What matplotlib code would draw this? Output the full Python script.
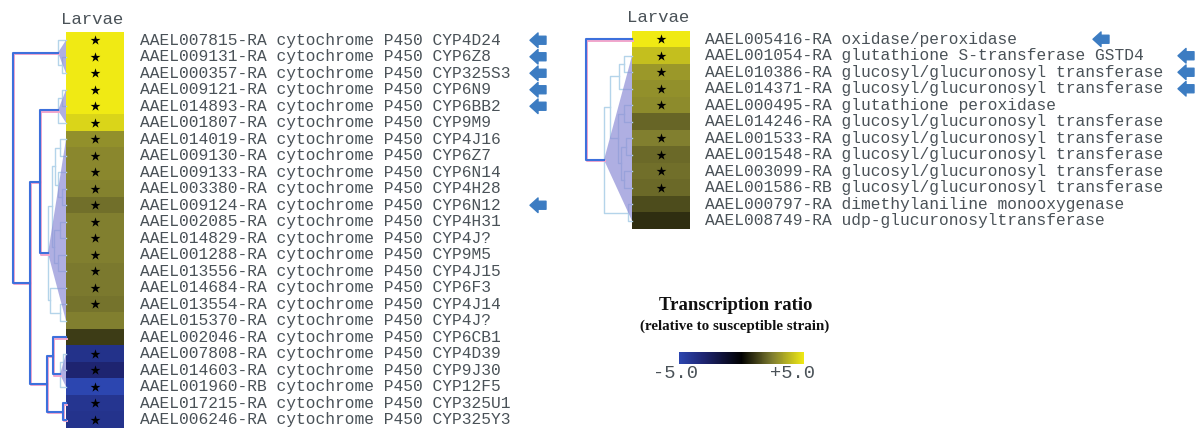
import numpy as np
import matplotlib
matplotlib.use('Agg')
import matplotlib.pyplot as plt
import matplotlib.transforms as mtransforms
from matplotlib.colors import LinearSegmentedColormap, Normalize
from matplotlib.cm import ScalarMappable
from matplotlib.patches import Polygon


# LEFT PANEL - cytochrome P450 genes
left_ids = ['AAEL007815-RA', 'AAEL009131-RA', 'AAEL000357-RA', 'AAEL009121-RA',
            'AAEL014893-RA', 'AAEL001807-RA', 'AAEL014019-RA', 'AAEL009130-RA',
            'AAEL009133-RA', 'AAEL003380-RA', 'AAEL009124-RA', 'AAEL002085-RA',
            'AAEL014829-RA', 'AAEL001288-RA', 'AAEL013556-RA', 'AAEL014684-RA',
            'AAEL013554-RA', 'AAEL015370-RA', 'AAEL002046-RA', 'AAEL007808-RA',
            'AAEL014603-RA', 'AAEL001960-RB', 'AAEL017215-RA', 'AAEL006246-RA']
left_names = ['CYP4D24', 'CYP6Z8', 'CYP325S3', 'CYP6N9', 'CYP6BB2', 'CYP9M9',
              'CYP4J16', 'CYP6Z7', 'CYP6N14', 'CYP4H28', 'CYP6N12', 'CYP4H31',
              'CYP4J?', 'CYP9M5', 'CYP4J15', 'CYP6F3', 'CYP4J14', 'CYP4J?',
              'CYP6CB1', 'CYP4D39', 'CYP9J30', 'CYP12F5', 'CYP325U1', 'CYP325Y3']
left_ratio = [5.0, 5.0, 5.0, 5.0, 5.0, 4.5, 2.9, 2.7, 2.7, 2.6, 2.2, 2.5,
              2.5, 2.5, 2.4, 2.4, 2.3, 2.5, 1.2, -3.8, -3.0, -5.0, -4.0, -3.9]
left_star = [1, 1, 1, 1, 1, 1, 1, 1, 1, 1, 1, 1,
             1, 1, 1, 1, 1, 0, 0, 1, 1, 1, 1, 1]
left_arrow = [0, 1, 2, 3, 4, 10]

# RIGHT PANEL - other detox genes
right_ids = ['AAEL005416-RA', 'AAEL001054-RA', 'AAEL010386-RA', 'AAEL014371-RA',
             'AAEL000495-RA', 'AAEL014246-RA', 'AAEL001533-RA', 'AAEL001548-RA',
             'AAEL003099-RA', 'AAEL001586-RB', 'AAEL000797-RA', 'AAEL008749-RA']
right_names = ['oxidase/peroxidase', 'glutathione S-transferase GSTD4',
               'glucosyl/glucuronosyl transferase', 'glucosyl/glucuronosyl transferase',
               'glutathione peroxidase', 'glucosyl/glucuronosyl transferase',
               'glucosyl/glucuronosyl transferase', 'glucosyl/glucuronosyl transferase',
               'glucosyl/glucuronosyl transferase', 'glucosyl/glucuronosyl transferase',
               'dimethylaniline monooxygenase', 'udp-glucuronosyltransferase']
right_ratio = [5.0, 4.0, 3.1, 2.9, 2.8, 2.0, 2.5, 2.1, 2.2, 2.1, 1.5, 0.9]
right_star = [1, 1, 1, 1, 1, 0, 1, 1, 1, 1, 0, 0]
right_arrow = [0, 1, 2, 3]

# dendrograms: (link position, child, child[, 'c' = collapsed]), ints are rows
left_tree = (13,
             (58, 0, (62, 1, 2), 'c'),
             (30,
              (40,
               (58, (62, 3, 4), 5, 'c'),
               (48,
                (52, (55, (60, 6, 7), (58, 8, (62, 9, 10))),
                 (54, (60, 11, 12), (58, 13, 14))),
                (50, 15, (60, 16, 17)), 'c')),
              (47,
               (53, 18, (60, (63, 19, 20), 21, 'c')),
               (63, 22, 23))))
right_tree = (6, 0,
              (24,
               (30, (39, (44, 1, 2), 3),
                (38, (44, 4, 5), (41, (46, 6, 7), (44, 8, 9)))),
               (48, 10, 11), 'c'))

W, H = 1198, 432
fig = plt.figure(figsize=(W / 100, H / 100), dpi=100)

cmap = LinearSegmentedColormap.from_list(
    'ratio', [(0, '#2c46b0'), (0.2, '#1e2470'), (0.5, '#000000'),
              (0.75, '#807e30'), (1, '#f0ea14')])

text_col = '#4a5258'
blue = '#3d70dc'
pink = '#f2a6cc'
pale = '#b4d4ea'
arrow_col = '#3c7cc2'


def px_axes(x0, y0, x1, y1):
    ax = fig.add_axes([x0 / W, 1 - y1 / H, (x1 - x0) / W, (y1 - y0) / H])
    ax.axis('off')
    return ax


def leaves(n):
    if isinstance(n, int):
        return [n]
    return leaves(n[1]) + leaves(n[2])


def draw_tree(ax, n, leaf_x, faded=False):
    if isinstance(n, int):
        return leaf_x, n
    h = n[0]
    collapsed = len(n) > 3
    inner = faded or collapsed
    xa, ya = draw_tree(ax, n[1], leaf_x, inner)
    xb, yb = draw_tree(ax, n[2], leaf_x, inner)
    xs = [xa, h, h, xb]
    ys = [ya, ya, yb, yb]
    if inner:
        ax.plot(xs, ys, color=pale, lw=1.0, clip_on=False, zorder=1)
    else:
        shadow = mtransforms.offset_copy(ax.transData, fig=fig, x=1.3, y=-1.3, units='dots')
        ax.plot(xs, ys, color=pink, lw=1.4, clip_on=False, zorder=2, transform=shadow)
        ax.plot(xs, ys, color=blue, lw=1.5, clip_on=False, zorder=3)
    y = (ya + yb) / 2
    if collapsed:
        lv = leaves(n)
        tri = Polygon([(h, y), (leaf_x, min(lv)), (leaf_x, max(lv))], closed=True,
                      facecolor='#8e8ed6', edgecolor='none', alpha=0.7, zorder=2)
        ax.add_patch(tri)
    return h, y


def panel(hm_box, dendro_box, ids, names, ratio, star, arrows, tree, text_x, arrow_x):
    n = len(ids)
    ax = px_axes(*hm_box)
    ax.imshow(np.array(ratio)[:, None], cmap=cmap, vmin=-5, vmax=5,
              aspect='auto', interpolation='nearest')
    rows = [i for i in range(n) if star[i]]
    ax.scatter(np.zeros(len(rows)), rows, marker='*', s=55, c='k', zorder=3, linewidths=0)
    ax.annotate('Larvae', xy=(0.5, 1), xycoords='axes fraction', xytext=(-3, 13),
                textcoords='offset pixels', ha='center', va='center',
                fontfamily='Liberation Mono', fontsize=12.5, color=text_col)

    trans = mtransforms.blended_transform_factory(fig.transFigure, ax.transData)
    for i in range(n):
        ax.text(text_x / W, i, ids[i] + ' ' + names[i], transform=trans,
                ha='left', va='center', fontfamily='Liberation Mono',
                fontsize=11.7, color=text_col)
    for i in arrows:
        ax_x = arrow_x[i] if isinstance(arrow_x, dict) else arrow_x
        ax.annotate('', xy=(ax_x / W, i), xycoords=trans,
                    xytext=((ax_x + 16) / W, i), textcoords=trans,
                    arrowprops=dict(arrowstyle='simple,head_length=0.55,head_width=1.0,tail_width=0.55',
                                    color=arrow_col, shrinkA=0, shrinkB=0,
                                    mutation_scale=10.5))

    dax = px_axes(*dendro_box)
    leaf_x = dendro_box[2] - dendro_box[0]
    dax.set_xlim(0, leaf_x)
    dax.set_ylim(n - 0.5, -0.5)
    draw_tree(dax, tree, leaf_x)


panel((66, 32, 124, 428), (0, 32, 66, 428), left_ids,
      ['cytochrome P450 ' + s for s in left_names], left_ratio, left_star,
      left_arrow, left_tree, 140, 530)
panel((632, 31, 690, 229), (580, 31, 632, 229), right_ids, right_names,
      right_ratio, right_star, right_arrow, right_tree, 705,
      {0: 1093, 1: 1178, 2: 1178, 3: 1178})

# colour key
fig.text(736 / W, 1 - 305 / H, 'Transcription ratio', ha='center', va='center',
         fontfamily='Liberation Serif', fontweight='bold', fontsize=13.5, color='#111111')
fig.text(735 / W, 1 - 326 / H, '(relative to susceptible strain)', ha='center',
         va='center', fontfamily='Liberation Serif', fontweight='bold', fontsize=10.8,
         color='#111111')
cax = fig.add_axes([679 / W, 1 - 364 / H, 125 / W, 12 / H])
cb = fig.colorbar(ScalarMappable(Normalize(-5, 5), cmap), cax=cax, orientation='horizontal')
cb.outline.set_visible(False)
cax.set_xticks([])
cax.text(-0.025, -0.8, '-5.0', transform=cax.transAxes, ha='center', va='center',
         fontfamily='Liberation Mono', fontsize=13.5, color=text_col)
cax.text(0.905, -0.8, '+5.0', transform=cax.transAxes, ha='center', va='center',
         fontfamily='Liberation Mono', fontsize=13.5, color=text_col)

fig.savefig('out.png', dpi=100)
